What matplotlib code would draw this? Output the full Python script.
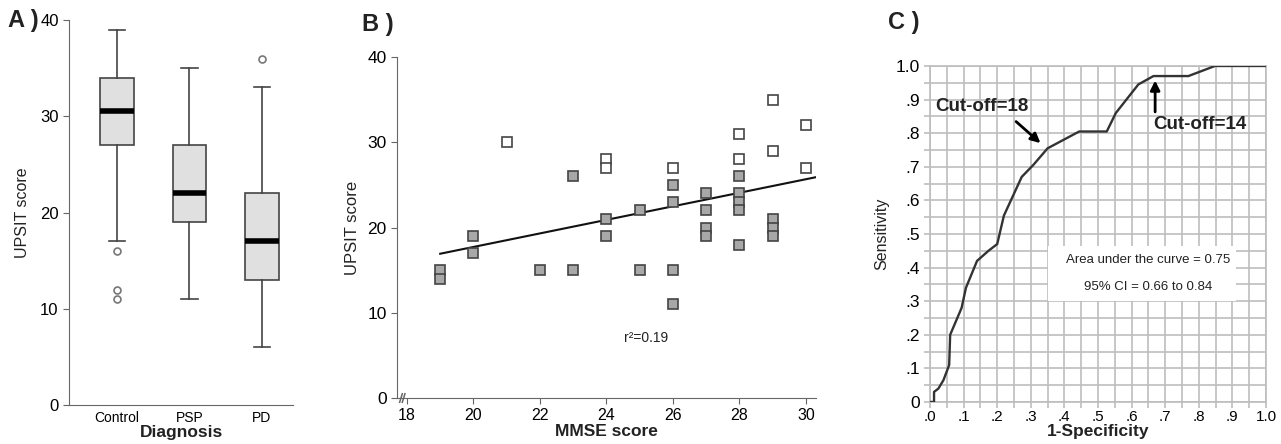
import numpy as np
import matplotlib.pyplot as plt
from matplotlib.patches import Rectangle
from matplotlib.ticker import MultipleLocator

plt.rcParams['font.family'] = ['Liberation Sans', 'DejaVu Sans']
plt.rcParams['text.color'] = '#222222'
plt.rcParams['axes.labelcolor'] = '#222222'

# A) UPSIT by diagnosis (box summaries read off the figure)
groups = ['Control', 'PSP', 'PD']
box_q1 = [27, 19, 13]
box_med = [30.5, 22, 17]
box_q3 = [34, 27, 22]
whisk_lo = [17, 11, 6]
whisk_hi = [39, 35, 33]
outliers = [[16, 12, 11], [], [36]]

# B) MMSE vs UPSIT
mmse_grey = [19, 19, 20, 20, 22, 23, 23, 24, 24, 25, 25, 26, 26, 26, 26,
             27, 27, 27, 27, 28, 28, 28, 28, 28, 29, 29, 29]
upsit_grey = [15, 14, 19, 17, 15, 26, 15, 21, 19, 22, 15, 25, 23, 15, 11,
              24, 22, 20, 19, 26, 24, 23, 22, 18, 21, 20, 19]
mmse_open = [21, 24, 24, 26, 28, 28, 29, 29, 30, 30]
upsit_open = [30, 28, 27, 27, 31, 28, 35, 29, 32, 27]

# C) ROC curve
roc_fpr = [0.003, 0.012, 0.012, 0.025, 0.04, 0.057, 0.06, 0.094, 0.107, 0.14,
           0.174, 0.20, 0.22, 0.273, 0.307, 0.35, 0.397, 0.444, 0.526, 0.553,
           0.62, 0.665, 0.769, 0.848, 1.0]
roc_tpr = [0.0, 0.0, 0.03, 0.04, 0.065, 0.11, 0.20, 0.28, 0.34, 0.42,
           0.45, 0.47, 0.555, 0.67, 0.705, 0.755, 0.78, 0.805, 0.805, 0.86,
           0.945, 0.97, 0.97, 1.0, 1.0]

spine_col = '#666666'
grid_col = '#bdbdbd'

fig = plt.figure(figsize=(12.81, 4.44), dpi=100)

# ---------- A ----------
axA = fig.add_axes([0.0539, 0.0878, 0.1749, 0.867])
stats = []
for i, g in enumerate(groups):
    stats.append(dict(label=g, med=box_med[i], q1=box_q1[i], q3=box_q3[i],
                      whislo=whisk_lo[i], whishi=whisk_hi[i], fliers=outliers[i]))
axA.bxp(stats, positions=[1, 2, 3], widths=0.46, capwidths=0.23, patch_artist=True,
        boxprops=dict(facecolor='#e0e0e0', edgecolor='#444444', linewidth=1.2),
        whiskerprops=dict(color='#444444', linewidth=1.2),
        capprops=dict(color='#444444', linewidth=1.2),
        medianprops=dict(color='black', linewidth=4),
        flierprops=dict(marker='o', markerfacecolor='white', markeredgecolor='#777777',
                        markersize=5, markeredgewidth=1.2))
axA.set_xlim(0.34, 3.43)
axA.set_ylim(0, 40)
axA.set_yticks([0, 10, 20, 30, 40])
axA.tick_params(axis='y', labelsize=12, length=4, color=spine_col)
axA.tick_params(axis='x', labelsize=10, length=0, pad=4)
axA.set_ylabel('UPSIT score', fontsize=11.5, labelpad=7)
axA.set_xlabel('Diagnosis', fontsize=12.5, fontweight='bold', labelpad=0)
for s in ['top', 'right']:
    axA.spines[s].set_visible(False)
for s in ['left', 'bottom']:
    axA.spines[s].set_color(spine_col)

# ---------- B ----------
axB = fig.add_axes([0.3099, 0.1036, 0.327, 0.768])
fit = np.polyfit(mmse_grey + mmse_open, upsit_grey + upsit_open, 1)
fx = np.array([19, 30.35])
axB.plot(fx, np.polyval(fit, fx), color='#111111', lw=1.5, zorder=2)
axB.plot(mmse_grey, upsit_grey, 's', ms=7, mfc='#a8a8a8', mec='#444444', mew=1.2,
         linestyle='none', zorder=3)
axB.plot(mmse_open, upsit_open, 's', ms=7, mfc='white', mec='#444444', mew=1.2,
         linestyle='none', zorder=3)
axB.set_xlim(17.7, 30.3)
axB.set_ylim(0, 40)
axB.set_xticks(range(18, 31, 2))
axB.set_yticks([0, 10, 20, 30, 40])
axB.tick_params(axis='both', length=4, color=spine_col)
axB.tick_params(axis='y', labelsize=12.5)
axB.tick_params(axis='x', labelsize=11.5, pad=3)
axB.set_ylabel('UPSIT score', fontsize=12, labelpad=5)
axB.set_xlabel('MMSE score', fontsize=12.5, fontweight='bold', labelpad=1)
for s in ['top', 'right']:
    axB.spines[s].set_visible(False)
for s in ['left', 'bottom']:
    axB.spines[s].set_color(spine_col)
# axis break marks
for bx in [17.82, 17.9]:
    axB.plot([bx - 0.04, bx + 0.04], [-0.5, 0.5], color=spine_col, lw=1.1,
             clip_on=False, zorder=5)
axB.text(25.2, 7, 'r²=0.19', fontsize=10, ha='center', va='center')

# ---------- C ----------
axC = fig.add_axes([0.726, 0.0946, 0.2623, 0.7568])
axC.set_xlim(0, 1)
axC.set_ylim(0, 1)
axC.xaxis.set_minor_locator(MultipleLocator(0.05))
axC.yaxis.set_minor_locator(MultipleLocator(0.05))
xt = np.round(np.arange(0, 1.01, 0.1), 1)
axC.set_xticks(xt)
axC.set_xticklabels(['.0'] + ['.%d' % i for i in range(1, 10)] + ['1.0'])
axC.set_yticks(xt)
axC.set_yticklabels(['0'] + ['.%d' % i for i in range(1, 10)] + ['1.0'])
axC.grid(which='both', color=grid_col, lw=1.2)
axC.set_axisbelow(True)
axC.tick_params(axis='both', which='both', length=4, color=grid_col, width=1.2)
axC.tick_params(axis='x', labelsize=11, pad=2)
axC.tick_params(axis='y', labelsize=12.5, pad=3)
for s in axC.spines.values():
    s.set_color(grid_col)
    s.set_linewidth(1.2)
axC.add_patch(Rectangle((0.35, 0.30), 0.56, 0.165, facecolor='white',
                        edgecolor='none', zorder=1))
axC.plot(roc_fpr, roc_tpr, color='#333333', lw=1.7, zorder=3)
axC.text(0.649, 0.423, 'Area under the curve = 0.75', fontsize=9.5, ha='center',
         va='center', zorder=4)
axC.text(0.649, 0.342, '95% CI = 0.66 to 0.84', fontsize=9.5, ha='center',
         va='center', zorder=4)
axC.annotate('', xy=(0.335, 0.765), xytext=(0.25, 0.84),
             arrowprops=dict(arrowstyle='-|>', color='black', lw=2, mutation_scale=14),
             zorder=4)
axC.text(0.015, 0.878, 'Cut-off=18', fontsize=13.5, fontweight='bold', ha='left',
         va='center', zorder=4)
axC.annotate('', xy=(0.67, 0.965), xytext=(0.67, 0.855),
             arrowprops=dict(arrowstyle='-|>', color='black', lw=2, mutation_scale=14),
             zorder=4)
axC.text(0.665, 0.826, 'Cut-off=14', fontsize=13.5, fontweight='bold', ha='left',
         va='center', zorder=4)
axC.set_ylabel('Sensitivity', fontsize=11.5, labelpad=5)
axC.set_xlabel('1-Specificity', fontsize=12.5, fontweight='bold', labelpad=0)

# panel letters
fig.text(8 / 1281, 1 - 20 / 444, 'A )', fontsize=17, fontweight='bold', va='center')
fig.text(362 / 1281, 1 - 24 / 444, 'B )', fontsize=17, fontweight='bold', va='center')
fig.text(888 / 1281, 1 - 22 / 444, 'C )', fontsize=17, fontweight='bold', va='center')

fig.savefig('out.png', dpi=100, facecolor='white')
